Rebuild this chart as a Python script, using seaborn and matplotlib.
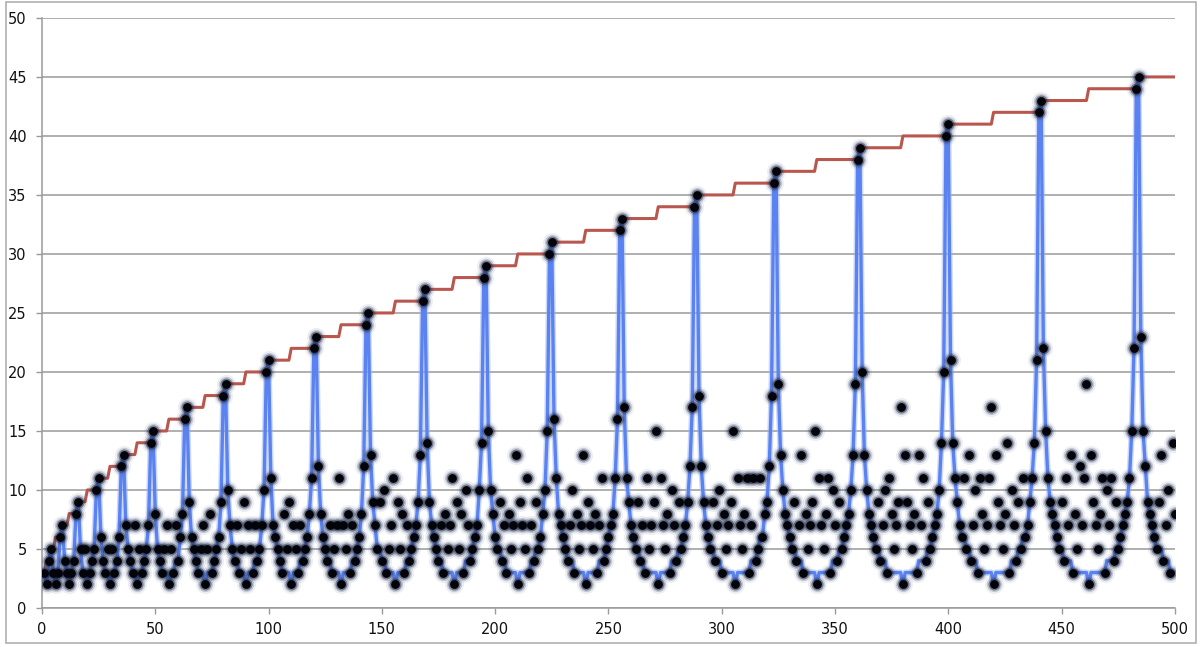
import numpy as np
import seaborn as sns
import matplotlib
matplotlib.use("Agg")
import matplotlib.pyplot as plt
from matplotlib.patches import Rectangle

# n = 1..500
n_vals = np.arange(1, 501)

# black dots (one per n)
dot_vals = [
    3, 2, 4, 5, 3, 2, 3, 6, 7, 4, 3, 2, 3, 4, 8, 9, 5, 3, 5, 2,
    3, 4, 5, 10, 11, 6, 4, 3, 5, 2, 5, 3, 4, 6, 12, 13, 7, 5, 4, 3,
    7, 2, 5, 3, 4, 5, 7, 14, 15, 8, 5, 4, 3, 5, 7, 2, 5, 3, 7, 4,
    6, 8, 16, 17, 9, 6, 5, 4, 3, 5, 7, 2, 5, 8, 3, 4, 5, 6, 9, 18,
    19, 10, 7, 5, 4, 7, 3, 5, 9, 2, 7, 5, 3, 7, 4, 5, 7, 10, 20, 21,
    11, 7, 6, 5, 4, 3, 8, 5, 9, 2, 7, 5, 3, 7, 4, 5, 6, 8, 11, 22,
    23, 12, 8, 6, 5, 4, 7, 3, 5, 7, 11, 2, 7, 5, 8, 3, 7, 4, 5, 6,
    8, 12, 24, 25, 13, 9, 7, 5, 9, 4, 10, 3, 5, 7, 11, 2, 9, 5, 8, 3,
    7, 4, 5, 6, 7, 9, 13, 26, 27, 14, 9, 7, 6, 5, 4, 7, 3, 8, 5, 7,
    11, 2, 9, 5, 8, 3, 10, 7, 4, 5, 6, 7, 10, 14, 28, 29, 15, 10, 8, 6,
    5, 9, 4, 7, 3, 8, 5, 7, 13, 2, 9, 7, 5, 11, 3, 7, 4, 9, 5, 6,
    8, 10, 15, 30, 31, 16, 11, 8, 7, 6, 5, 4, 7, 10, 3, 8, 5, 7, 13, 2,
    9, 7, 5, 8, 3, 7, 11, 4, 5, 6, 7, 8, 11, 16, 32, 33, 17, 11, 9, 7,
    6, 5, 9, 4, 7, 3, 11, 5, 7, 9, 15, 2, 11, 7, 5, 8, 3, 10, 7, 4,
    9, 5, 6, 7, 9, 12, 17, 34, 35, 18, 12, 9, 7, 6, 5, 9, 4, 7, 10, 3,
    8, 5, 7, 9, 15, 2, 11, 7, 5, 8, 11, 3, 7, 11, 4, 5, 11, 6, 8, 9,
    12, 18, 36, 37, 19, 13, 10, 8, 7, 6, 5, 9, 4, 7, 13, 3, 8, 5, 7, 9,
    15, 2, 11, 7, 5, 8, 11, 3, 10, 7, 4, 9, 5, 6, 7, 8, 10, 13, 19, 38,
    39, 20, 13, 10, 8, 7, 6, 5, 9, 4, 7, 10, 3, 11, 8, 5, 7, 9, 17, 2,
    13, 9, 7, 5, 8, 3, 13, 7, 11, 4, 9, 5, 6, 7, 8, 10, 14, 20, 40, 41,
    21, 14, 11, 9, 7, 6, 11, 5, 13, 4, 7, 10, 3, 11, 8, 5, 7, 11, 17, 2,
    13, 9, 7, 5, 8, 14, 3, 10, 7, 4, 9, 5, 11, 6, 7, 9, 11, 14, 21, 42,
    43, 22, 15, 11, 9, 8, 7, 6, 5, 9, 4, 11, 7, 13, 3, 8, 5, 12, 7, 11,
    19, 2, 13, 9, 7, 5, 8, 11, 3, 10, 7, 11, 4, 9, 5, 6, 7, 8, 9, 11,
    15, 22, 44, 45, 23, 15, 12, 9, 8, 7, 6, 5, 9, 13, 4, 7, 10, 3, 14, 8,
]

# blue line (lower envelope)
blue_vals = [
    3, 2, 4, 5, 3, 2, 3, 6, 7, 4, 3, 2, 3, 4, 8, 9, 5, 3, 3, 2,
    3, 4, 5, 10, 11, 6, 4, 3, 3, 2, 3, 3, 4, 6, 12, 13, 7, 5, 4, 3,
    3, 2, 3, 3, 4, 5, 7, 14, 15, 8, 5, 4, 3, 3, 3, 2, 3, 3, 4, 4,
    6, 8, 16, 17, 9, 6, 5, 4, 3, 3, 3, 2, 3, 3, 3, 4, 5, 6, 9, 18,
    19, 10, 7, 5, 4, 4, 3, 3, 3, 2, 3, 3, 3, 4, 4, 5, 7, 10, 20, 21,
    11, 7, 6, 5, 4, 3, 3, 3, 3, 2, 3, 3, 3, 4, 4, 5, 6, 8, 11, 22,
    23, 12, 8, 6, 5, 4, 4, 3, 3, 3, 3, 2, 3, 3, 3, 3, 4, 4, 5, 6,
    8, 12, 24, 25, 13, 9, 7, 5, 5, 4, 4, 3, 3, 3, 3, 2, 3, 3, 3, 3,
    4, 4, 5, 6, 7, 9, 13, 26, 27, 14, 9, 7, 6, 5, 4, 4, 3, 3, 3, 3,
    3, 2, 3, 3, 3, 3, 4, 4, 4, 5, 6, 7, 10, 14, 28, 29, 15, 10, 8, 6,
    5, 5, 4, 4, 3, 3, 3, 3, 3, 2, 3, 3, 3, 3, 3, 4, 4, 5, 5, 6,
    8, 10, 15, 30, 31, 16, 11, 8, 7, 6, 5, 4, 4, 4, 3, 3, 3, 3, 3, 2,
    3, 3, 3, 3, 3, 4, 4, 4, 5, 6, 7, 8, 11, 16, 32, 33, 17, 11, 9, 7,
    6, 5, 5, 4, 4, 3, 3, 3, 3, 3, 3, 2, 3, 3, 3, 3, 3, 4, 4, 4,
    5, 5, 6, 7, 9, 12, 17, 34, 35, 18, 12, 9, 7, 6, 5, 5, 4, 4, 4, 3,
    3, 3, 3, 3, 3, 2, 3, 3, 3, 3, 3, 3, 4, 4, 4, 5, 6, 6, 8, 9,
    12, 18, 36, 37, 19, 13, 10, 8, 7, 6, 5, 5, 4, 4, 4, 3, 3, 3, 3, 3,
    3, 2, 3, 3, 3, 3, 3, 3, 4, 4, 4, 5, 5, 6, 7, 8, 10, 13, 19, 38,
    39, 20, 13, 10, 8, 7, 6, 5, 5, 4, 4, 4, 3, 3, 3, 3, 3, 3, 3, 2,
    3, 3, 3, 3, 3, 3, 4, 4, 4, 4, 5, 5, 6, 7, 8, 10, 14, 20, 40, 41,
    21, 14, 11, 9, 7, 6, 6, 5, 5, 4, 4, 4, 3, 3, 3, 3, 3, 3, 3, 2,
    3, 3, 3, 3, 3, 3, 3, 4, 4, 4, 5, 5, 6, 6, 7, 9, 11, 14, 21, 42,
    43, 22, 15, 11, 9, 8, 7, 6, 5, 5, 4, 4, 4, 4, 3, 3, 3, 3, 3, 3,
    3, 2, 3, 3, 3, 3, 3, 3, 3, 4, 4, 4, 4, 5, 5, 6, 7, 8, 9, 11,
    15, 22, 44, 45, 23, 15, 12, 9, 8, 7, 6, 5, 5, 5, 4, 4, 4, 3, 3, 3,
]

# red step line: value red_levels[i] starts at n = red_starts[i]
red_starts = [1, 2, 4, 6, 9, 12, 16, 20, 25, 30, 36, 42, 49, 56, 64, 72, 81, 90,
              100, 110, 121, 132, 144, 156, 169, 182, 196, 210, 225, 240, 256,
              272, 289, 306, 324, 342, 361, 380, 400, 420, 441, 462, 484]
red_levels = list(range(3, 46))

red_vals = np.repeat(red_levels, np.diff(red_starts + [501]))

sns.set_theme(style="white")
plt.rcParams['font.family'] = ['DejaVu Sans']

fig = plt.figure(figsize=(12, 6.47), dpi=100)
ax = fig.add_axes([0.035, 0.0603, 0.944, 0.912])

grid_c = '#9a9a9a'
ax.set_xlim(0, 500)
ax.set_ylim(0, 50)
ax.set_yticks(range(0, 51, 5))
ax.set_xticks(range(0, 501, 50))
ax.yaxis.grid(True, color=grid_c, lw=1.1)
ax.xaxis.grid(False)
ax.set_axisbelow(True)
for s in ['top', 'right']:
    ax.spines[s].set_visible(False)
for s in ['left', 'bottom']:
    ax.spines[s].set_color(grid_c)
    ax.spines[s].set_linewidth(1.1)
ax.tick_params(axis='both', length=4, width=1, color=grid_c, labelsize=10.5,
               labelcolor='#111111')
ax.tick_params(axis='x', pad=6)
ax.tick_params(axis='y', pad=7, left=True)
ax.tick_params(axis='x', bottom=True)

sns.lineplot(x=n_vals, y=red_vals, color='#b9574e', lw=2.2, ax=ax, zorder=3)
# soft edge on the blue line
sns.lineplot(x=n_vals, y=blue_vals, color='#9db4f5', lw=4.5, alpha=0.5, ax=ax, zorder=4)
sns.lineplot(x=n_vals, y=blue_vals, color='#5a82f0', lw=2.4, ax=ax, zorder=5)

# dots with a blurred halo
ax.scatter(n_vals, dot_vals, s=190, color='#56688f', alpha=0.10, lw=0, zorder=6)
ax.scatter(n_vals, dot_vals, s=120, color='#2f3f66', alpha=0.22, lw=0, zorder=7)
ax.scatter(n_vals, dot_vals, s=75, color='#141c33', alpha=0.45, lw=0, zorder=8)
sns.scatterplot(x=n_vals, y=dot_vals, s=40, color='#03030a', linewidth=0,
                ax=ax, zorder=9)
ax.set_xlabel('')
ax.set_ylabel('')

fig.patches.append(Rectangle((0.005, 0.006), 0.9917, 0.9907, transform=fig.transFigure,
                             fill=False, ec='#b0b0b0', lw=1.2))

fig.savefig('out.png', dpi=100)
